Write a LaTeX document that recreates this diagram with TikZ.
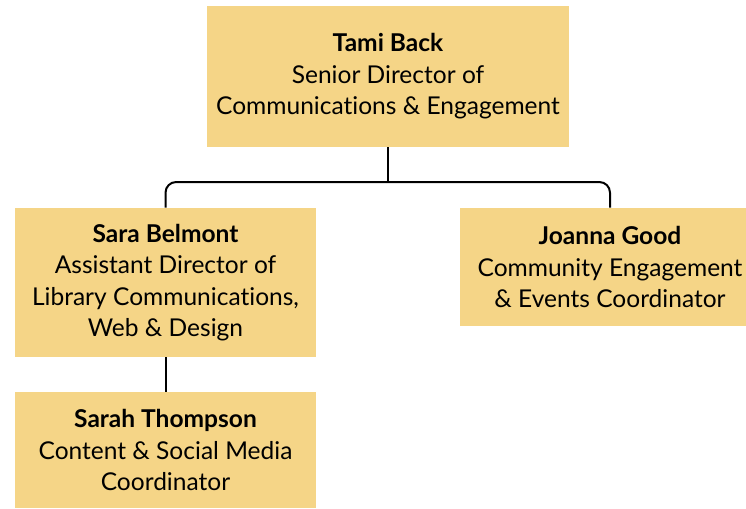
\documentclass[tikz,border=0pt]{standalone}
\usepackage{fontspec}
\setmainfont{Lato}[Ligatures=NoCommon]
\usetikzlibrary{positioning}

\definecolor{boxyellow}{HTML}{F5D587}

\tikzset{
  person/.style={fill=boxyellow, align=center, inner sep=0pt,
    font=\fontsize{18.4}{23.6}\selectfont},
  link/.style={draw=black, line width=1.5pt}
}

\begin{document}
\begin{tikzpicture}[x=0.75pt,y=-0.75pt]
      \useasboundingbox (0,0) rectangle (746,508);

      \node[person, minimum width=271.5pt, minimum height=105.75pt] (tami) at (388,76.5)
        {\textbf{Tami Back}\\Senior Director of\\Communications \& Engagement};

      \node[person, minimum width=225.75pt, minimum height=111.75pt] (sara) at (165.5,282.5)
        {\textbf{Sara Belmont}\\Assistant Director of\\Library Communications,\\Web \& Design};

      \node[person, minimum width=225pt, minimum height=88.5pt] (joanna) at (610,267)
        {\textbf{Joanna Good}\\Community Engagement\\\& Events Coordinator};

      \node[person, minimum width=225.75pt, minimum height=87pt] (sarah) at (165.5,450)
        {\textbf{Sarah Thompson}\\Content \& Social Media\\Coordinator};

      \coordinate (split) at (388,182);

      \draw[link] (tami.south) -- (split);
      \draw[link, rounded corners=8pt] (sara.north) |- (split) -| (joanna.north);
      \draw[link] (sara.south) -- (sarah.north);
    \end{tikzpicture}
\end{document}
